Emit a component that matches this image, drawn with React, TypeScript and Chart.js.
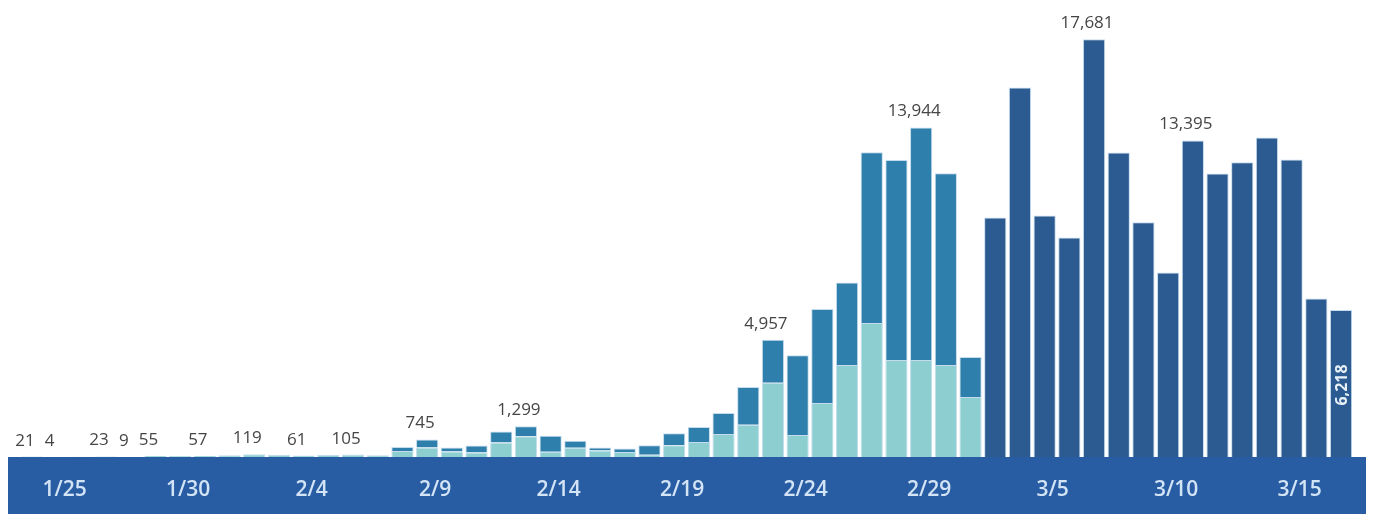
import React, { useEffect, useRef } from "react";
import { Chart, registerables } from "chart.js";

Chart.register(...registerables);

// Categories: one bar per day, 1/24 to 3/17
const dates = [
  "1/24", "1/25", "1/26", "1/27", "1/28", "1/29", "1/30", "1/31",
  "2/1", "2/2", "2/3", "2/4", "2/5", "2/6", "2/7", "2/8", "2/9", "2/10",
  "2/11", "2/12", "2/13", "2/14", "2/15", "2/16", "2/17", "2/18", "2/19", "2/20",
  "2/21", "2/22", "2/23", "2/24", "2/25", "2/26", "2/27", "2/28", "2/29",
  "3/1", "3/2", "3/3", "3/4", "3/5", "3/6", "3/7", "3/8", "3/9", "3/10",
  "3/11", "3/12", "3/13", "3/14", "3/15", "3/16", "3/17",
];

// Axis tick labels shown in the band
const tickDates = ["1/25", "1/30", "2/4", "2/9", "2/14", "2/19", "2/24", "2/29", "3/5", "3/10", "3/15"];

// Light (bottom) segment, 1/24 .. 3/2
const lightVals = [
  21, 4, 12, 23, 9, 55, 40, 57, 70, 119, 90, 61, 80, 105, 70,
  250, 405, 230, 190, 615, 880, 220, 390, 270, 210, 100, 500, 640,
  970, 1360, 3137, 930, 2290, 3890, 5670, 4100, 4100, 3890, 2540,
];

// Medium (top) segment, 1/24 .. 3/2
const mediumVals = [
  0, 0, 0, 0, 0, 0, 0, 0, 0, 0, 0, 0, 0, 0, 0,
  170, 340, 170, 300, 465, 419, 680, 300, 130, 150, 400, 500, 630,
  890, 1600, 1820, 3380, 3970, 3490, 7230, 8470, 9844, 8120, 1690,
];

// Dark single bars, 3/3 .. 3/17
const darkVals = [10140, 15640, 10220, 9290, 17681, 12890, 9930, 7810, 13395, 12000, 12470, 13520, 12590, 6710, 6218];

// Which bars carry a value label
const labelAbove = ["1/24", "1/25", "1/27", "1/28", "1/29", "1/31", "2/2", "2/4", "2/6", "2/9", "2/13", "2/23", "2/29", "3/7", "3/11"];
const labelInside = ["3/17"];

const LIGHT = "#8dcfd0";
const MEDIUM = "#2e7fab";
const DARK = "#2b5b91";
const BAND = "#295da3";
const EDGE = "#c4dcee";

const nDark = darkVals.length;
const nStacked = lightVals.length;
const lightFull = dates.map((_, i) => (i < nStacked ? lightVals[i] : null));
const mediumFull = dates.map((_, i) => (i < nStacked ? mediumVals[i] : null));
const darkFull = dates.map((_, i) => (i >= dates.length - nDark ? darkVals[i - (dates.length - nDark)] : null));
const totals = dates.map((_, i) => (lightFull[i] ?? 0) + (mediumFull[i] ?? 0) + (darkFull[i] ?? 0));

const fmt = (v: number) => v.toLocaleString("en-US");

const bandPlugin = {
  id: "band",
  beforeDraw(chart: any) {
    const { ctx, chartArea, width, height } = chart;
    ctx.save();
    ctx.fillStyle = BAND;
    ctx.fillRect(0, chartArea.bottom, width, height - chartArea.bottom);
    ctx.restore();
  },
};

const valueLabelPlugin = {
  id: "valueLabels",
  afterDatasetsDraw(chart: any) {
    const { ctx, chartArea } = chart;
    const xs = chart.scales.x;
    const ys = chart.scales.y;
    ctx.save();
    ctx.font = "17px 'Open Sans'";
    ctx.fillStyle = "#454545";
    ctx.textAlign = "center";
    ctx.textBaseline = "alphabetic";
    labelAbove.forEach((d) => {
      const i = dates.indexOf(d);
      if (i < 0) return;
      const x = xs.getPixelForValue(i);
      const y = ys.getPixelForValue(totals[i]);
      ctx.fillText(fmt(totals[i]), x - 7, y - 11);
    });
    ctx.font = "bold 16px 'Open Sans'";
    ctx.fillStyle = "#e8f0f8";
    ctx.textBaseline = "middle";
    labelInside.forEach((d) => {
      const i = dates.indexOf(d);
      if (i < 0) return;
      const x = xs.getPixelForValue(i);
      ctx.save();
      ctx.translate(x + 1, chartArea.bottom - 72);
      ctx.rotate(-Math.PI / 2);
      ctx.fillText(fmt(totals[i]), 0, 0);
      ctx.restore();
    });
    ctx.restore();
  },
};

export default function App() {
  const ref = useRef<HTMLCanvasElement | null>(null);

  useEffect(() => {
    if (!ref.current) return;
    const common = {
      borderColor: EDGE,
      borderWidth: 1,
      barPercentage: 0.9,
      categoryPercentage: 1,
      stack: "s",
    };
    const chart = new Chart(ref.current, {
      type: "bar",
      data: {
        labels: dates,
        datasets: [
          { ...common, label: "light", data: lightFull, backgroundColor: LIGHT },
          { ...common, label: "medium", data: mediumFull, backgroundColor: MEDIUM },
          { ...common, label: "dark", data: darkFull, backgroundColor: DARK },
        ],
      },
      options: {
        animation: false,
        responsive: true,
        maintainAspectRatio: false,
        layout: { padding: { left: 11.6, right: 12.6, top: 0, bottom: 0 } },
        plugins: { legend: { display: false }, tooltip: { enabled: false }, title: { display: false } },
        scales: {
          x: {
            type: "category",
            stacked: true,
            offset: true,
            grid: { display: false, drawTicks: false },
            border: { display: false },
            ticks: {
              autoSkip: false,
              maxRotation: 0,
              minRotation: 0,
              padding: 20,
              labelOffset: 8,
              color: "#d3e4f6",
              font: { family: "'Open Sans'", size: 21, weight: "600" },
              callback: (_v: any, idx: number) => (tickDates.includes(dates[idx]) ? dates[idx] : null),
            },
            afterFit: (s: any) => {
              s.height = 57;
            },
          },
          y: { display: false, stacked: true, min: 0, max: 19000 },
        },
      },
      plugins: [bandPlugin, valueLabelPlugin],
    } as any);
    return () => chart.destroy();
  }, []);

  return (
    <div style={{ width: 1358, height: 506, position: "relative" }}>
      <canvas ref={ref} />
    </div>
  );
}
